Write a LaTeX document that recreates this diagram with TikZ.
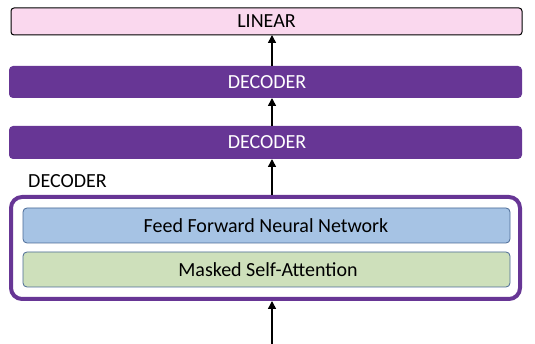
\documentclass[tikz,border=0pt]{standalone}
\usepackage{fontspec}
\setmainfont{Carlito}
\usetikzlibrary{arrows.meta}
\definecolor{linfill}{HTML}{FAD8EE}
\definecolor{decpurple}{HTML}{673695}
\definecolor{fffill}{HTML}{A6C3E4}
\definecolor{ffline}{HTML}{4A6A96}
\definecolor{msafill}{HTML}{CEE0BB}
\tikzset{
  x=1pt, y=-1pt,
  linbox/.style={draw=black, line width=1pt, fill=linfill, rounded corners=3pt},
  decbox/.style={fill=decpurple, rounded corners=4pt},
  outerbox/.style={draw=decpurple, line width=4pt, fill=white, rounded corners=11pt},
  innerbox/.style={draw=ffline, line width=0.8pt, rounded corners=4pt},
  flow/.style={-{Triangle[length=8pt,width=8pt]}, line width=1.5pt},
  lbl/.style={font=\fontsize{20}{22}\selectfont, inner sep=0pt},
}
\begin{document}
\begin{tikzpicture}
\useasboundingbox (0,0) rectangle (535,344);
% output projection
\draw[linbox] (11,8) rectangle (522,35);
\node[lbl] (lin) at (266.5,21.5) {LINEAR};
\coordinate (linB) at (272,35);
% stacked decoders
\fill[decbox] (9,66) rectangle (522,98);
\node[lbl, text=white] (dec1) at (267,82) {DECODER};
\coordinate (dec1T) at (272,66);
\coordinate (dec1B) at (272,98);
\fill[decbox] (9,126) rectangle (522,159);
\node[lbl, text=white] (dec2) at (267,142.5) {DECODER};
\coordinate (dec2T) at (272,126);
\coordinate (dec2B) at (272,159);
% expanded decoder block
\node[lbl, anchor=west] (declbl) at (28,181) {DECODER};
\draw[outerbox] (11,197) rectangle (520,299);
\coordinate (outT) at (272,195);
\coordinate (outB) at (272,301);
\draw[innerbox, fill=fffill] (23,208) rectangle (510,243);
\node[lbl] (ffnn) at (266,225.5) {Feed Forward Neural Network};
\draw[innerbox, fill=msafill] (23,252) rectangle (510,287);
\node[lbl] (msa) at (268,269.5) {Masked Self-Attention};
\coordinate (inp) at (272,344);
% data flow
\draw[flow] (inp) -- (outB);
\draw[flow] (outT) -- (dec2B);
\draw[flow] (dec2T) -- (dec1B);
\draw[flow] (dec1T) -- (linB);
\end{tikzpicture}
\end{document}
